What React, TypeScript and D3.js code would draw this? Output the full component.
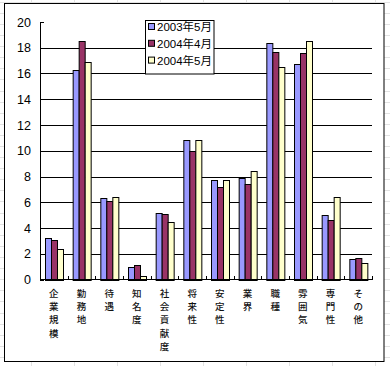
import React from "react";
import * as d3 from "d3";

const categories = ["企業規模", "勤務地", "待遇", "知名度", "社会貢献度", "将来性", "安定性", "業界", "職種", "雰囲気", "専門性", "その他"];
const seriesNames = ["2003年5月", "2004年4月", "2004年5月"];
const s2003May = [3.2, 16.3, 6.3, 1.0, 5.2, 10.8, 7.7, 7.9, 18.4, 16.7, 5.0, 1.6];
const s2004Apr = [3.1, 18.5, 6.1, 1.1, 5.1, 10.0, 7.2, 7.4, 17.7, 17.6, 4.6, 1.7];
const s2004May = [2.4, 16.9, 6.4, 0.3, 4.5, 10.8, 7.7, 8.4, 16.5, 18.5, 6.4, 1.3];
const yTicks = [0, 2, 4, 6, 8, 10, 12, 14, 16, 18, 20];

const colors = ["#9999FF", "#993366", "#FFFFCC"];
const W = 390;
const H = 366;

export default function App() {
  const series = [s2003May, s2004Apr, s2004May];
  const x = d3.scaleBand<string>().domain(categories).range([40, 372]);
  const xInner = d3
    .scaleBand<number>()
    .domain([0, 1, 2])
    .range([0, x.bandwidth()])
    .paddingOuter(0.75)
    .paddingInner(0);
  const y = d3.scaleLinear().domain([0, 20]).range([279.5, 22]);

  // spreadsheet cells behind the chart
  const colLines = d3.range(31, W, 43);
  const rowLines = d3.range(1.7, H, 11.1);

  const font = "'Liberation Sans', Arial, 'Noto Sans CJK JP', sans-serif";
  const jfont = "'Noto Sans CJK JP', sans-serif";

  return (
    <svg width={W} height={H} style={{ position: "absolute", left: 0, top: 0 }}>
      <rect x={0} y={0} width={W} height={H} fill="#fff" />
      {colLines.map((c) => (
        <line key={"c" + c} x1={Math.round(c) + 0.5} x2={Math.round(c) + 0.5} y1={0} y2={H} stroke="#e2e2e2" />
      ))}
      {rowLines.map((r) => (
        <line key={"r" + r} x1={0} x2={W} y1={Math.round(r) + 0.5} y2={Math.round(r) + 0.5} stroke="#e2e2e2" />
      ))}
      <rect x={4.5} y={3.5} width={379.5} height={358} fill="#fff" stroke="#000" strokeWidth={1} />

      {/* gridlines */}
      {yTicks.filter((t) => t > 0 && t < 20).map((t) => (
        <line key={"g" + t} x1={40} x2={372} y1={Math.round(y(t)) + 0.5} y2={Math.round(y(t)) + 0.5} stroke="#000" />
      ))}

      {/* bars */}
      {categories.map((c, i) => (
        <g key={c} transform={`translate(${x(c)},0)`}>
          {series.map((s, j) => (
            <rect
              key={j}
              x={Math.round(xInner(j)!) + 0.5}
              y={Math.round(y(s[i])) + 0.5}
              width={Math.round(xInner.bandwidth())}
              height={Math.max(0, Math.round(y(0)) - Math.round(y(s[i])))}
              fill={colors[j]}
              stroke="#000"
              strokeWidth={1}
            />
          ))}
        </g>
      ))}

      {/* axes */}
      <line x1={40.5} x2={40.5} y1={22} y2={280} stroke="#000" />
      <line x1={40} x2={372} y1={279.5} y2={279.5} stroke="#000" />
      {yTicks.map((t) => (
        <line key={"yt" + t} x1={40} x2={44} y1={Math.round(y(t)) + 0.5} y2={Math.round(y(t)) + 0.5} stroke="#000" />
      ))}
      {categories.concat([""]).map((c, i) => {
        const xx = Math.round(40 + i * x.step()) + 0.5;
        return <line key={"xt" + i} x1={xx} x2={xx} y1={276} y2={280} stroke="#000" />;
      })}
      {yTicks.map((t) => (
        <text key={"yl" + t} x={31} y={y(t) + 4.5} textAnchor="end" fontSize={12.5} fontFamily={font} fill="#000">
          {t}
        </text>
      ))}

      {/* category labels, one character per line */}
      {categories.map((c) =>
        Array.from(c).map((ch, k) => (
          <text
            key={c + k}
            x={x(c)! + x.bandwidth() / 2}
            y={297 + k * 13.2}
            fontSize={9.5}
            fontFamily={jfont}
            fontWeight={500}
            textAnchor="middle"
            fill="#111"
          >
            {ch}
          </text>
        ))
      )}

      {/* legend */}
      <rect x={145.5} y={20.5} width={68.5} height={53.5} fill="#fff" stroke="#000" />
      {seriesNames.map((n, j) => (
        <g key={n}>
          <rect x={148.5} y={23.5 + j * 16.8} width={6} height={6} fill={colors[j]} stroke="#000" />
          <text x={157} y={31 + j * 16.8} fontSize={11.5} fontFamily={font} fill="#000">
            {n}
          </text>
        </g>
      ))}
    </svg>
  );
}
